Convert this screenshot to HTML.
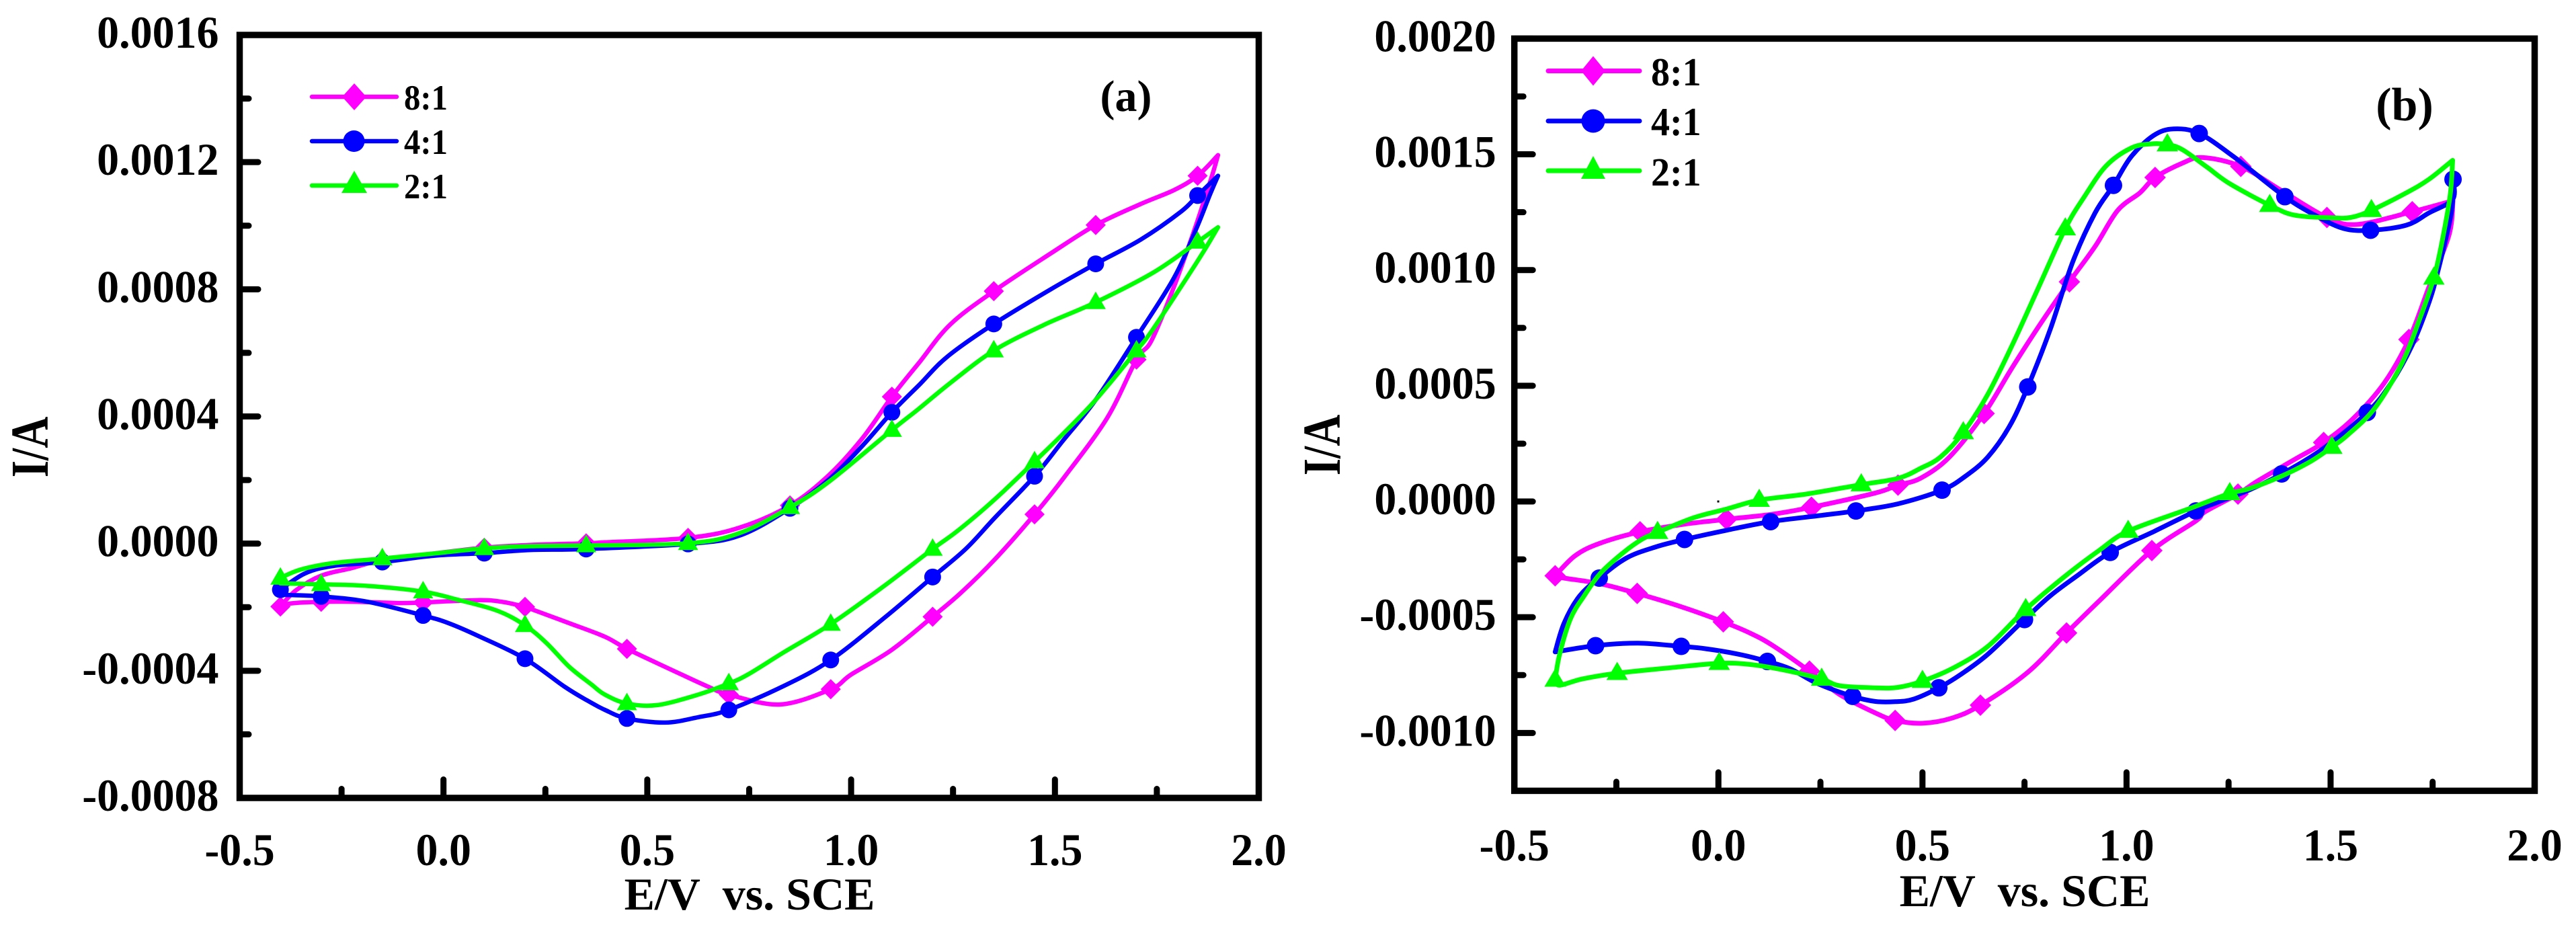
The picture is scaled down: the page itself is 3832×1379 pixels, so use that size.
<!DOCTYPE html>
<html lang="en">
<head>
<meta charset="utf-8">
<title>Cyclic voltammograms (a) and (b)</title>
<style>
html,body{margin:0;padding:0;background:#fff;}
svg{display:block;}
text{font-family:"Liberation Serif",serif;font-weight:bold;fill:#000;white-space:pre;}
</style>
</head>
<body>
<svg id="chart-canvas" xmlns="http://www.w3.org/2000/svg" width="3832" height="1379" viewBox="0 0 3832 1379">
  <rect x="0" y="0" width="3832" height="1379" fill="#fff"/>
  <g id="panel-a"></g>
  <g id="panel-b"></g>

  <text font-size="68" text-anchor="middle" transform="translate(71,665) rotate(-90) scale(0.96,1.17)">I/A</text>
  <text font-size="68" text-anchor="middle" x="1115" y="1353">E/V  vs. SCE</text>
  <text font-size="66" text-anchor="middle" x="1675" y="165">(a)</text>

  <g>
    <g>
      <line x1="464" y1="144" x2="590" y2="144" stroke="#ff00ff" stroke-width="6.5" stroke-linecap="round"/>
      <polygon points="527,124 545,144 527,164 509,144" fill="#ff00ff"/>
      <text font-size="53" transform="translate(601,163) scale(0.92,1)">8:1</text>
    </g>
    <g>
      <line x1="464" y1="210" x2="590" y2="210" stroke="#0000ff" stroke-width="6.5" stroke-linecap="round"/>
      <circle cx="526.5" cy="210" r="16" fill="#0000ff"/>
      <text font-size="53" transform="translate(601,229) scale(0.92,1)">4:1</text>
    </g>
    <g>
      <line x1="464" y1="276" x2="590" y2="276" stroke="#00ff00" stroke-width="6.5" stroke-linecap="round"/>
      <polygon points="527,254 546,287 508,287" fill="#00ff00"/>
      <text font-size="53" transform="translate(601,295) scale(0.92,1)">2:1</text>
    </g>
  </g>

  <text font-size="68" text-anchor="middle" transform="translate(1993,662) rotate(-90) scale(0.96,1.17)">I/A</text>
  <text font-size="68" text-anchor="middle" x="3012" y="1348">E/V  vs. SCE</text>
  <text font-size="70" text-anchor="middle" x="3577" y="179">(b)</text>

  <g>
    <g>
      <line x1="2303" y1="105.5" x2="2439" y2="105.5" stroke="#ff00ff" stroke-width="7" stroke-linecap="round"/>
      <polygon points="2370,83.5 2388,105.5 2370,127.5 2352,105.5" fill="#ff00ff"/>
      <text font-size="59" transform="translate(2456,127) scale(0.95,1)">8:1</text>
    </g>
    <g>
      <line x1="2303" y1="180" x2="2439" y2="180" stroke="#0000ff" stroke-width="7" stroke-linecap="round"/>
      <circle cx="2370" cy="180" r="17.5" fill="#0000ff"/>
      <text font-size="59" transform="translate(2456,201) scale(0.95,1)">4:1</text>
    </g>
    <g>
      <line x1="2303" y1="254" x2="2439" y2="254" stroke="#00ff00" stroke-width="7" stroke-linecap="round"/>
      <polygon points="2370,232 2388,266 2352,266" fill="#00ff00"/>
      <text font-size="59" transform="translate(2456,276) scale(0.95,1)">2:1</text>
    </g>
  </g>

  <rect x="2554.5" y="744.5" width="3" height="3" fill="#000"/>
</svg>

<script>
// Shared x-axis tick labels (V vs. SCE)
const xTickValues = [-0.5, 0.0, 0.5, 1.0, 1.5, 2.0];
const xTickLabels = ["-0.5", "0.0", "0.5", "1.0", "1.5", "2.0"];

// Panel (a) y-axis ticks (A)
const aYTickValues = [-0.0008, -0.0004, 0.0, 0.0004, 0.0008, 0.0012, 0.0016];
const aYTickLabels = ["-0.0008", "-0.0004", "0.0000", "0.0004", "0.0008", "0.0012", "0.0016"];

// Panel (b) y-axis ticks (A)
const bYTickValues = [-0.0010, -0.0005, 0.0, 0.0005, 0.0010, 0.0015, 0.0020];
const bYTickLabels = ["-0.0010", "-0.0005", "0.0000", "0.0005", "0.0010", "0.0015", "0.0020"];

// Panel (a), 8:1 - potential (V), current (microamps), indices that carry a marker
const a81E = [-0.4,-0.362,-0.3,-0.225,-0.15,-0.022,0.1,0.215,0.35,0.396,0.6,0.726,0.85,0.946,1.028,1.1,1.166,1.243,1.35,1.49,1.6,1.71,1.792,1.85,1.9,1.886,1.847,1.792,1.737,1.7,1.628,1.523,1.45,1.353,1.27,1.2,1.1,1.0,0.95,0.826,0.7,0.644,0.561,0.45,0.396,0.308,0.226,0.2,0.143,0.088,-0.05,-0.11,-0.214,-0.3,-0.374,-0.4];
const a81I = [-198,-147,-101,-77,-52,-31,-13,-4,1,4,18,50,120,216,332,462,568,689,794,913,1002,1068,1112,1157,1222,1160,1005,808,639,579,395,209,92,-49,-154,-230,-334,-412,-458,-506,-475,-447,-398,-331,-293,-250,-211,-199,-183,-178,-185,-187,-183,-183,-188,-198];
const a81Marks = [0,4,6,8,10,12,15,18,20,23,29,32,35,38,40,43,47,50,53];

// Panel (a), 4:1
const a41E = [-0.4,-0.34,-0.269,-0.15,-0.022,0.1,0.215,0.35,0.6,0.726,0.85,0.946,1.028,1.1,1.166,1.237,1.35,1.49,1.6,1.71,1.809,1.85,1.9,1.88,1.847,1.792,1.7,1.6,1.518,1.45,1.353,1.281,1.2,1.083,0.95,0.836,0.7,0.625,0.544,0.45,0.396,0.352,0.297,0.2,0.088,0.012,-0.05,-0.186,-0.3,-0.4];
const a41I = [-145,-94,-70,-58,-38,-30,-20,-17,-1,25,111,202,308,413,498,589,691,800,880,956,1044,1095,1157,1097,991,836,649,452,321,212,82,-17,-105,-232,-366,-447,-523,-546,-563,-550,-523,-493,-450,-362,-292,-250,-226,-183,-166,-161];
const a41Marks = [0,3,5,7,8,10,13,16,18,21,26,29,32,34,36,39,43,46,48];

// Panel (a), 2:1
const a21E = [-0.4,-0.351,-0.269,-0.15,-0.022,0.1,0.215,0.35,0.6,0.726,0.85,0.946,1.1,1.166,1.243,1.35,1.473,1.6,1.743,1.85,1.9,1.869,1.82,1.737,1.7,1.6,1.518,1.45,1.375,1.314,1.254,1.2,1.078,0.95,0.836,0.748,0.7,0.625,0.524,0.45,0.396,0.363,0.308,0.253,0.2,0.132,0.033,-0.05,-0.186,-0.3,-0.4];
const a21I = [-108,-82,-61,-47,-31,-15,-8,-6,1,33,114,195,357,424,505,607,688,759,854,949,995,928,829,668,607,452,343,258,166,96,33,-17,-136,-253,-341,-411,-440,-475,-508,-503,-475,-443,-387,-313,-257,-211,-176,-151,-133,-128,-125];
const a21Marks = [0,3,5,7,8,10,12,15,17,19,24,27,31,33,36,39,44,47,49];

// Panel (b), 8:1
const b81E = [-0.4,-0.351,-0.291,-0.192,-0.087,0.02,0.132,0.228,0.385,0.44,0.495,0.566,0.651,0.72,0.791,0.86,0.923,0.978,1.033,1.07,1.137,1.187,1.28,1.379,1.491,1.565,1.7,1.8,1.79,1.741,1.692,1.631,1.554,1.483,1.412,1.318,1.273,1.192,1.17,1.062,0.934,0.853,0.758,0.642,0.572,0.5,0.433,0.385,0.297,0.223,0.132,0.077,0.012,-0.087,-0.199,-0.291,-0.378,-0.4];
const b81I = [-321,-234,-181,-131,-99,-77,-55,-25,37,71,100,192,380,579,773,949,1102,1257,1334,1400,1462,1486,1448,1344,1227,1197,1252,1300,1150,927,700,511,356,255,182,85,32,-45,-84,-212,-428,-568,-738,-880,-936,-958,-946,-914,-834,-733,-621,-568,-520,-457,-397,-355,-331,-321];
const b81Marks = [0,3,5,7,9,12,15,19,22,24,26,30,33,36,39,41,43,46,49,52,54];

// Panel (b), 4:1
const b41E = [-0.4,-0.378,-0.34,-0.292,-0.225,-0.153,-0.083,0.023,0.128,0.242,0.337,0.44,0.548,0.605,0.66,0.714,0.758,0.813,0.868,0.923,0.968,1.011,1.066,1.115,1.178,1.263,1.388,1.467,1.533,1.598,1.686,1.741,1.799,1.8,1.796,1.763,1.741,1.7,1.648,1.59,1.483,1.38,1.302,1.225,1.17,1.069,0.96,0.879,0.813,0.75,0.66,0.594,0.54,0.478,0.434,0.385,0.329,0.242,0.176,0.12,0.05,-0.032,-0.091,-0.197,-0.301,-0.4];
const b41I = [-650,-525,-408,-331,-244,-196,-164,-123,-87,-62,-41,-10,49,109,192,327,495,743,1034,1247,1366,1489,1581,1610,1590,1489,1317,1232,1179,1172,1194,1247,1305,1392,1247,995,860,676,511,385,230,119,51,-2,-41,-128,-220,-321,-408,-510,-660,-747,-805,-854,-865,-864,-842,-786,-723,-691,-660,-636,-626,-612,-623,-650];
const b41Marks = [3,6,8,10,12,16,20,24,26,29,33,39,41,44,46,49,52,56,59,62,64];

// Panel (b), 2:1
const b21E = [-0.4,-0.389,-0.362,-0.329,-0.29,-0.236,-0.186,-0.149,-0.06,0.023,0.1,0.215,0.35,0.44,0.495,0.544,0.6,0.66,0.72,0.78,0.85,0.896,0.95,1.011,1.06,1.1,1.137,1.197,1.253,1.351,1.412,1.5,1.549,1.6,1.686,1.741,1.799,1.793,1.774,1.753,1.719,1.675,1.609,1.543,1.503,1.45,1.379,1.302,1.253,1.154,1.004,0.934,0.857,0.753,0.66,0.577,0.5,0.44,0.385,0.297,0.253,0.16,0.077,0.002,-0.115,-0.248,-0.334,-0.389,-0.4];
const b21I = [-771,-660,-505,-408,-312,-225,-162,-133,-70,-31,6,32,73,100,143,192,298,463,676,908,1179,1315,1450,1527,1545,1542,1520,1445,1373,1280,1237,1226,1227,1258,1334,1392,1474,1324,1131,966,792,598,405,289,235,172,109,56,35,-31,-128,-210,-312,-466,-626,-718,-776,-803,-805,-796,-767,-728,-704,-699,-718,-742,-767,-794,-771];
const b21Marks = [0,7,10,12,16,20,25,29,33,39,44,48,50,53,56,60,63,65];

const SVG_NS = "http://www.w3.org/2000/svg";

function make(parent, tag, attrs) {
  const el = document.createElementNS(SVG_NS, tag);
  for (const k in attrs) el.setAttribute(k, attrs[k]);
  parent.appendChild(el);
  return el;
}

function smoothRun(pts) {
  let d = "";
  for (let i = 0; i < pts.length - 1; i++) {
    const p0 = pts[Math.max(i - 1, 0)], p1 = pts[i], p2 = pts[i + 1], p3 = pts[Math.min(i + 2, pts.length - 1)];
    const c1x = p1[0] + (p2[0] - p0[0]) / 6, c1y = p1[1] + (p2[1] - p0[1]) / 6;
    const c2x = p2[0] - (p3[0] - p1[0]) / 6, c2y = p2[1] - (p3[1] - p1[1]) / 6;
    d += " C" + c1x.toFixed(1) + " " + c1y.toFixed(1) + " " + c2x.toFixed(1) + " " + c2y.toFixed(1) + " " + p2[0].toFixed(1) + " " + p2[1].toFixed(1);
  }
  return d;
}

function drawPanel(panelId, box, yMin, yMax, yVals, yLabels, series, mk, lineW) {
  const root = document.getElementById(panelId);
  const xMin = -0.5, xMax = 2.0;
  const xPos = v => box.left + (v - xMin) / (xMax - xMin) * (box.right - box.left);
  const yPos = v => box.bottom - (v - yMin) / (yMax - yMin) * (box.bottom - box.top);

  // y ticks: majors from the tick array, minors halfway between majors
  yVals.forEach((v, i) => {
    const tick = make(root, "line", {x1: box.left, x2: box.left + 27.5, y1: yPos(v), y2: yPos(v), stroke: "#000", "stroke-width": 9, "stroke-linecap": "round"});
    
    
    const label = make(root, "text", {"font-size": 68, "text-anchor": "end", transform: "translate(" + (box.left - box.labelGapY) + "," + (yPos(v) + 19) + ") scale(0.97,1)"});
    label.textContent = yLabels[i];
    
    
    if (i < yVals.length - 1) {
      const mid = (v + yVals[i + 1]) / 2;
      const minor = make(root, "line", {x1: box.left, x2: box.left + 13.5, y1: yPos(mid), y2: yPos(mid), stroke: "#000", "stroke-width": 9, "stroke-linecap": "round"});
      
      
    }
  });

  // x ticks
  xTickValues.forEach((v, i) => {
    const tick = make(root, "line", {x1: xPos(v), x2: xPos(v), y1: box.bottom, y2: box.bottom - 27.5, stroke: "#000", "stroke-width": 9, "stroke-linecap": "round"});
    
    
    const label = make(root, "text", {"font-size": 68, "text-anchor": "middle", transform: "translate(" + xPos(v) + "," + box.labelBaselineX + ") scale(0.97,1)"});
    label.textContent = xTickLabels[i];
    
    
    if (i < xTickValues.length - 1) {
      const mid = (v + xTickValues[i + 1]) / 2;
      const minor = make(root, "line", {x1: xPos(mid), x2: xPos(mid), y1: box.bottom, y2: box.bottom - 13.5, stroke: "#000", "stroke-width": 9, "stroke-linecap": "round"});
      
      
    }
  });

  const frame = make(root, "rect", {x: box.left, y: box.top, width: box.right - box.left, height: box.bottom - box.top, fill: "none", stroke: "#000", "stroke-width": 9.5});
  
  

  // series: magenta first, green on top
  series.forEach(s => {
    const group = make(root, "g", {});
    
    

    const pts = s.e.map((v, i) => [xPos(v), yPos(s.i[i] * 1e-6)]);
    let turn = 0;
    s.e.forEach((v, i) => { if (v > s.e[turn]) turn = i; });
    const d = "M" + pts[0][0].toFixed(1) + " " + pts[0][1].toFixed(1) +
      smoothRun(pts.slice(0, turn + 1)) + smoothRun(pts.slice(turn));
    const path = make(group, "path", {d: d, fill: "none", stroke: s.color, "stroke-width": lineW, "stroke-linejoin": "round", "stroke-linecap": "round"});
    
    

    s.marks.forEach(idx => {
      const x = pts[idx][0], y = pts[idx][1];
      let m;
      if (s.shape === "diamond") {
        m = make(group, "polygon", {points: x + "," + (y - mk.d) + " " + (x + mk.d) + "," + y + " " + x + "," + (y + mk.d) + " " + (x - mk.d) + "," + y, fill: s.color});
      } else if (s.shape === "circle") {
        m = make(group, "circle", {cx: x, cy: y, r: mk.r, fill: s.color});
      } else {
        m = make(group, "polygon", {points: x + "," + (y - mk.tip) + " " + (x + mk.d) + "," + (y + mk.base) + " " + (x - mk.d) + "," + (y + mk.base), fill: s.color});
      }
      
      
    });
  });
}

drawPanel("panel-a",
  {left: 356.5, right: 1872.5, top: 52, bottom: 1187, labelGapY: 31, labelBaselineX: 1287},
  -0.0008, 0.0016, aYTickValues, aYTickLabels,
  [
    {name: "8-1", color: "#ff00ff", shape: "diamond", e: a81E, i: a81I, marks: a81Marks},
    {name: "4-1", color: "#0000ff", shape: "circle", e: a41E, i: a41I, marks: a41Marks},
    {name: "2-1", color: "#00ff00", shape: "triangle", e: a21E, i: a21I, marks: a21Marks}
  ],
  {d: 15, r: 12.5, tip: 16, base: 10}, 6.5);

drawPanel("panel-b",
  {left: 2252.7, right: 3770.5, top: 57.4, bottom: 1176.4, labelGapY: 27, labelBaselineX: 1280},
  -0.00125, 0.0020, bYTickValues, bYTickLabels,
  [
    {name: "8-1", color: "#ff00ff", shape: "diamond", e: b81E, i: b81I, marks: b81Marks},
    {name: "4-1", color: "#0000ff", shape: "circle", e: b41E, i: b41I, marks: b41Marks},
    {name: "2-1", color: "#00ff00", shape: "triangle", e: b21E, i: b21I, marks: b21Marks}
  ],
  {d: 16, r: 13, tip: 17, base: 10}, 7);
</script>
</body>
</html>
